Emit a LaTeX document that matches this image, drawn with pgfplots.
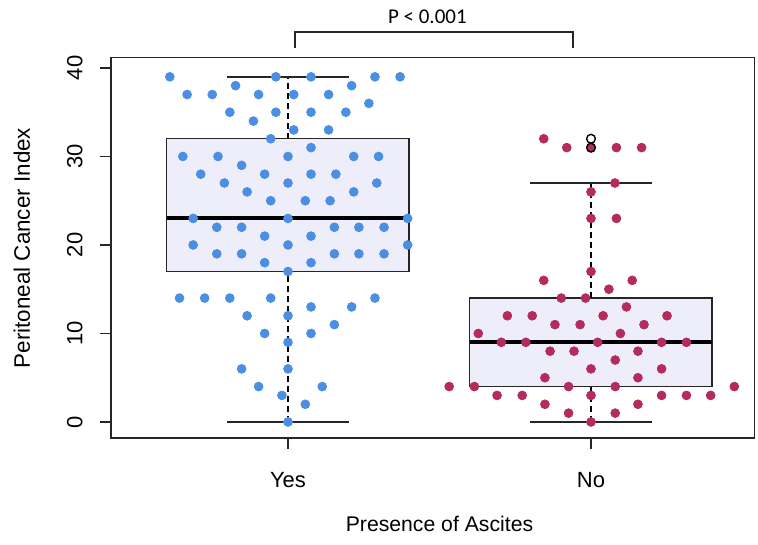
\documentclass[border=0pt]{standalone}
\usepackage{pgfplots}
\pgfplotsset{compat=1.18}
\usepackage{fontspec}
\setmainfont{Liberation Sans}
\newfontfamily\calibri{Carlito}
\definecolor{ptblue}{HTML}{4A8FE2}
\definecolor{ptred}{HTML}{B42B5E}
\definecolor{boxfill}{HTML}{EEEEFB}
\begin{document}
\begin{tikzpicture}
\begin{axis}[
  x=151.5pt, y=4.425pt,
  xmin=0.416, xmax=2.54, ymin=-1.8, ymax=41.2,
  axis line style={line width=0.7pt, black!85},
  xtick={1,2}, xticklabels={Yes,No},
  ytick={0,10,20,30,40},
  xtick pos=lower, ytick pos=left,
  tick align=outside, major tick length=5.5pt,
  tick style={black!85, line width=0.7pt},
  xticklabel style={anchor=north, inner sep=0pt, yshift=-11.5pt},
  yticklabel style={xshift=-8.5pt, rotate=90, anchor=south, inner sep=0pt},
  /pgf/number format/assume math mode=true,
  font=\fontsize{11}{13}\selectfont,
  clip=false,
]
% box fills
\addplot[draw=none, fill=boxfill] coordinates {(0.6,17) (1.4,17) (1.4,32) (0.6,32) (0.6,17)};
\addplot[draw=none, fill=boxfill] coordinates {(1.6,4) (2.4,4) (2.4,14) (1.6,14) (1.6,4)};
% beeswarm points, Yes
\addplot[only marks, color=ptblue, mark=*, mark size=2.2pt, mark options={draw=ptblue, fill=ptblue}] coordinates {
(0.610,39)(0.960,39)(1.076,39)(1.287,39)(1.370,39)
(0.827,38)(1.210,38)
(0.667,37)(0.750,37)(0.903,37)(1.019,37)(1.134,37)
(1.267,36)
(0.808,35)(0.960,35)(1.076,35)(1.191,35)
(0.886,34)
(1.019,33)(1.134,33)
(0.943,32)
(1.076,31)
(0.653,30)(0.769,30)(1.000,30)(1.217,30)(1.299,30)
(0.847,29)
(0.712,28)(0.923,28)(1.076,28)(1.158,28)
(0.790,27)(1.000,27)(1.293,27)
(0.865,26)(1.217,26)
(0.943,25)(1.057,25)(1.139,25)
(0.687,23)(1.000,23)(1.395,23)
(0.765,22)(0.847,22)(1.153,22)(1.234,22)(1.317,22)
(0.923,21)(1.076,21)
(0.687,20)(1.000,20)(1.395,20)
(0.765,19)(0.847,19)(1.153,19)(1.234,19)(1.317,19)
(0.923,18)(1.076,18)
(1.000,17)
(0.642,14)(0.725,14)(0.808,14)(0.943,14)(1.287,14)
(1.076,13)(1.210,13)
(0.865,12)(1.000,12)
(1.153,11)
(0.923,10)(1.076,10)
(1.000,9)
(0.847,6)(1.000,6)
(0.903,4)(1.113,4)
(0.980,3)
(1.057,2)
(1.000,0)
};
% beeswarm points, No
\addplot[only marks, color=ptred, mark=*, mark size=2.2pt, mark options={draw=ptred, fill=ptred}] coordinates {
(1.844,32)
(1.920,31)(2.000,31)(2.084,31)(2.167,31)
(2.079,27)
(2.000,26)
(2.000,23)(2.084,23)
(2.000,17)
(1.844,16)(2.136,16)
(2.059,15)
(1.902,14)(1.982,14)
(2.117,13)
(1.724,12)(1.806,12)(2.040,12)(2.251,12)
(1.881,11)(1.964,11)(2.175,11)
(1.628,10)(2.097,10)
(1.704,9)(1.785,9)(2.022,9)(2.233,9)(2.315,9)
(1.865,8)(1.944,8)(2.155,8)
(2.080,7)
(2.000,6)(2.233,6)
(1.848,5)(2.155,5)
(1.532,4)(1.615,4)(1.926,4)(2.080,4)(2.473,4)
(1.690,3)(1.773,3)(2.000,3)(2.233,3)(2.315,3)(2.395,3)
(1.848,2)(2.155,2)
(1.926,1)(2.080,1)
(2.000,0)
};
% box outlines
\addplot[black!85, line width=0.7pt] coordinates {(0.6,17) (1.4,17) (1.4,32) (0.6,32) (0.6,17)};
\addplot[black!85, line width=0.7pt] coordinates {(1.6,4) (2.4,4) (2.4,14) (1.6,14) (1.6,4)};
% medians
\addplot[black, line width=2pt] coordinates {(0.6,23) (1.4,23)};
\addplot[black, line width=2pt] coordinates {(1.6,9) (2.4,9)};
% whiskers
\addplot[black, line width=0.7pt, dash pattern=on 3pt off 2pt] coordinates {(1,32) (1,39)};
\addplot[black, line width=0.7pt, dash pattern=on 3pt off 2pt] coordinates {(1,0) (1,17)};
\addplot[black, line width=0.7pt, dash pattern=on 3pt off 2pt] coordinates {(2,14) (2,27)};
\addplot[black, line width=0.7pt, dash pattern=on 3pt off 2pt] coordinates {(2,0) (2,4)};
% whisker caps
\addplot[black!85, line width=0.7pt] coordinates {(0.8,39) (1.2,39)};
\addplot[black!85, line width=0.7pt] coordinates {(0.8,0) (1.2,0)};
\addplot[black!85, line width=0.7pt] coordinates {(1.8,27) (2.2,27)};
\addplot[black!85, line width=0.7pt] coordinates {(1.8,0) (2.2,0)};
% outliers
\addplot[only marks, mark=o, mark size=2.2pt, mark options={black, line width=0.7pt}] coordinates {(2,31) (2,32)};
% significance bracket
\draw[black!85, line width=0.7pt] (axis cs:1.023,42.26) -- (axis cs:1.023,44.07) -- (axis cs:1.941,44.07) -- (axis cs:1.941,42.26);
\node[anchor=base, inner sep=0pt, font=\calibri\fontsize{10.5}{12}\selectfont] at (axis cs:1.46,45.0) {P < 0.001};
% axis labels
\node[anchor=north, inner sep=0pt, font=\fontsize{10.6}{12}\selectfont] at (axis cs:1.50,-10.62) {Presence of Ascites};
\node[rotate=90, anchor=base, inner sep=0pt, font=\fontsize{11.2}{13}\selectfont] at (axis cs:0.1485,19.66) {Peritoneal Cancer Index};
% bounding box corners
\coordinate (bbA) at (axis cs:0.0495,47.68);
\coordinate (bbB) at (axis cs:2.5512,-13.9);
\end{axis}
\pgfresetboundingbox
\path[use as bounding box] (bbA) rectangle (bbB);
\end{tikzpicture}
\end{document}
